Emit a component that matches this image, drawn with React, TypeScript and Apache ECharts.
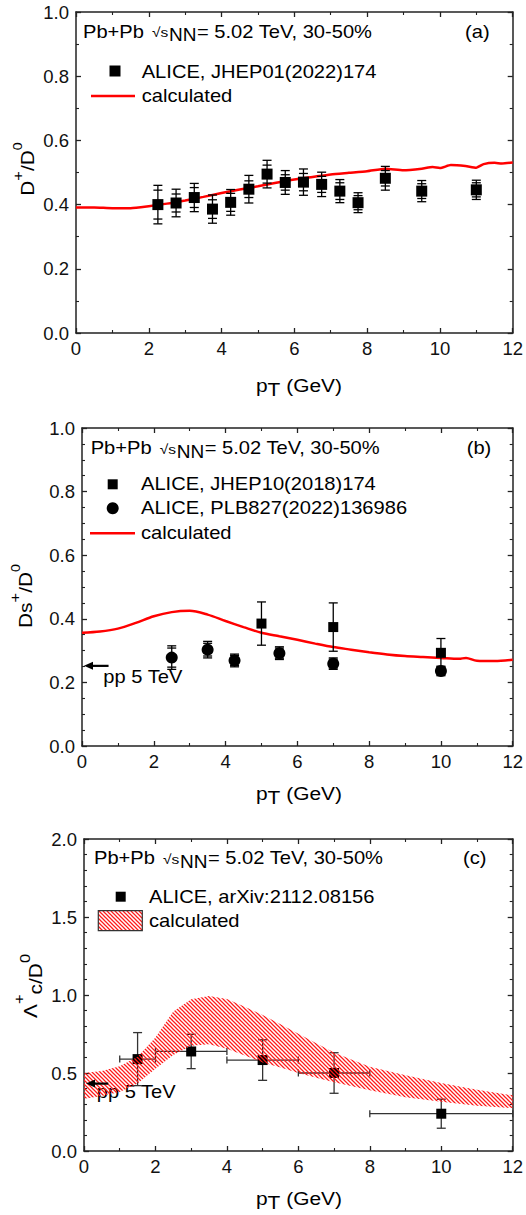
import React, { useEffect, useRef } from "react";
import * as echarts from "echarts";

const FONT = "'Liberation Sans', Arial, Helvetica, sans-serif";
const SX = 1.15; // horizontal stretch of annotation texts

// ---- Panel (a): D+/D0 ----
const dPlusPt = [2.25, 2.75, 3.25, 3.75, 4.25, 4.75, 5.25, 5.75, 6.25, 6.75, 7.25, 7.75, 8.5, 9.5, 11.0];
const dPlusRatio = [0.400, 0.405, 0.422, 0.386, 0.407, 0.448, 0.495, 0.469, 0.470, 0.463, 0.442, 0.406, 0.482, 0.442, 0.446];
const dPlusErrSys = [0.060, 0.043, 0.044, 0.044, 0.040, 0.043, 0.043, 0.037, 0.041, 0.038, 0.036, 0.031, 0.037, 0.033, 0.030];
const dPlusErrStat = [0.045, 0.028, 0.031, 0.029, 0.028, 0.026, 0.028, 0.024, 0.027, 0.025, 0.026, 0.022, 0.024, 0.023, 0.022];
const dPlusCalcPt = [0, 0.5, 1, 1.5, 2, 2.5, 3, 3.5, 4, 4.5, 5, 5.5, 6, 6.5, 7, 7.5, 8, 8.5, 9, 9.5, 9.8, 10, 10.3, 10.7, 11, 11.2, 11.5, 11.7, 12];
const dPlusCalc = [0.391, 0.391, 0.389, 0.389, 0.395, 0.403, 0.413, 0.424, 0.436, 0.447, 0.457, 0.468, 0.478, 0.486, 0.494, 0.499, 0.504, 0.512, 0.507, 0.512, 0.517, 0.514, 0.523, 0.520, 0.515, 0.526, 0.530, 0.528, 0.531];

// ---- Panel (b): Ds+/D0 ----
const ds2018Pt = [5, 7, 10];
const ds2018 = [0.385, 0.374, 0.293];
const ds2018Err = [0.068, 0.076, 0.045];
const ds2022Pt = [2.5, 3.5, 4.25, 5.5, 7, 10];
const ds2022 = [0.278, 0.303, 0.269, 0.292, 0.259, 0.236];
const ds2022ErrSys = [0.037, 0.026, 0.020, 0.020, 0.018, 0.015];
const ds2022ErrStat = [0.030, 0.020, 0.016, 0.016, 0.014, 0.012];
const dsCalcPt = [0, 0.5, 1, 1.5, 2, 2.5, 3, 3.5, 4, 4.5, 5, 5.5, 6, 6.5, 7, 7.5, 8, 8.5, 9, 9.5, 10, 10.5, 10.7, 11, 11.5, 12];
const dsCalc = [0.356, 0.360, 0.369, 0.387, 0.408, 0.421, 0.425, 0.413, 0.393, 0.374, 0.356, 0.345, 0.334, 0.322, 0.311, 0.303, 0.295, 0.288, 0.283, 0.280, 0.277, 0.274, 0.277, 0.268, 0.267, 0.271];
const ppDs = 0.252;
const ppDsArrowEnd = 0.74;

// ---- Panel (c): Lambda_c+/D0 ----
const lcPt = [1.5, 3, 5, 7, 10];
const lcRatio = [0.589, 0.638, 0.583, 0.500, 0.239];
const lcErr = [0.170, 0.110, 0.130, 0.130, 0.093];
const lcPtLo = [1, 2, 4, 6, 8];
const lcPtHi = [2, 4, 6, 8, 12];
const lcBandPt = [0, 0.5, 1, 1.5, 2, 2.5, 3, 3.5, 4, 4.5, 5, 5.5, 6, 6.5, 7, 7.5, 8, 9, 10, 11, 12];
const lcBandHigh = [0.500, 0.513, 0.543, 0.604, 0.728, 0.895, 0.972, 0.994, 0.975, 0.925, 0.872, 0.813, 0.752, 0.690, 0.632, 0.585, 0.540, 0.485, 0.436, 0.393, 0.357];
const lcBandLow = [0.335, 0.353, 0.378, 0.432, 0.528, 0.615, 0.675, 0.685, 0.655, 0.612, 0.568, 0.535, 0.500, 0.470, 0.440, 0.415, 0.390, 0.345, 0.315, 0.290, 0.275];
const ppLc = 0.432;
const ppLcArrowEnd = 0.68;

// ---- axes ----
const xMax = 12;
const xInterval = 2;
const yMax = [1, 1, 2];
const yInterval = [0.2, 0.2, 0.5];
const yMinorSplit = [2, 4, 5];

const AXIS_COLOR = "#222";

let measureCtx: CanvasRenderingContext2D | null = null;
function textWidth(t: string, size: number) {
  if (!measureCtx) measureCtx = document.createElement("canvas").getContext("2d");
  measureCtx!.font = `${size}px ${FONT}`;
  return measureCtx!.measureText(t).width;
}

type Piece = { t: string; s: number; dy?: number };

function textEl(t: string, x: number, y: number, size: number, sx = SX, align = "left") {
  return {
    type: "text",
    x,
    y,
    scaleX: sx,
    silent: true,
    style: {
      text: t,
      font: `${size}px ${FONT}`,
      fill: "#000",
      align,
      textAlign: align,
      verticalAlign: "middle",
      textVerticalAlign: "middle",
    },
  };
}

function runOfText(pieces: Piece[], startX: number, y: number, sx: number) {
  let x = startX;
  const out: any[] = [];
  for (const p of pieces) {
    out.push(textEl(p.t, x, y + (p.dy ?? 0), p.s, sx));
    x += textWidth(p.t, p.s) * sx;
  }
  return out;
}

function rotatedTitle(cx: number, cy: number, pieces: Piece[], sx: number) {
  const total = pieces.reduce((w, p) => w + textWidth(p.t, p.s) * sx, 0);
  return {
    type: "group",
    x: cx,
    y: cy,
    rotation: Math.PI / 2,
    children: runOfText(pieces, -total / 2, 0, sx),
  };
}

function header(x0: number, y: number, tag: string, tagX: number) {
  return [
    textEl("Pb+Pb", x0, y, 17.5),
    textEl("\u221as", x0 + 69, y + 1, 13.5),
    textEl("NN", x0 + 86, y + 3, 19, 1),
    textEl("= 5.02 TeV, 30-50%", x0 + 114, y, 17.5),
    textEl(tag, tagX, y, 17.5),
  ];
}

function ptTitle(y: number) {
  return runOfText(
    [
      { t: "p", s: 19 },
      { t: "T", s: 19, dy: 4 },
      { t: " (GeV)", s: 19 },
    ],
    256,
    y,
    1.1
  );
}

function hatchCanvas() {
  const s = 4;
  const c = document.createElement("canvas");
  c.width = s;
  c.height = s;
  const g = c.getContext("2d")!;
  g.strokeStyle = "#ff1a1a";
  g.lineWidth = 1.25;
  g.beginPath();
  for (let k = -1; k <= 1; k++) {
    g.moveTo(k * s - 1, -1);
    g.lineTo(k * s + s + 1, s + 1);
  }
  g.stroke();
  return c;
}

// vertical error bars with caps at both uncertainty levels
function vErr(capHalf: number, width: number) {
  return (params: any, api: any) => {
    const x = api.value(0);
    const y = api.value(1);
    const e1 = api.value(2);
    const e2 = api.value(3);
    const style = { stroke: "#000", lineWidth: width };
    const hi = api.coord([x, y + e1]);
    const lo = api.coord([x, y - e1]);
    const children: any[] = [
      { type: "line", shape: { x1: hi[0], y1: hi[1], x2: lo[0], y2: lo[1] }, style },
    ];
    for (const e of [e1, e2]) {
      if (!(e > 0)) continue;
      for (const sgn of [1, -1]) {
        const p = api.coord([x, y + sgn * e]);
        children.push({
          type: "line",
          shape: { x1: p[0] - capHalf, y1: p[1], x2: p[0] + capHalf, y2: p[1] },
          style,
        });
      }
    }
    return { type: "group", children };
  };
}

// horizontal + vertical error bars for the Lambda_c points
function xyErr(params: any, api: any) {
  const x = api.value(0);
  const y = api.value(1);
  const ey = api.value(2);
  const xl = api.value(3);
  const xh = api.value(4);
  const style = { stroke: "#333", lineWidth: 1.3 };
  const t = api.coord([x, y + ey]);
  const b = api.coord([x, y - ey]);
  const l = api.coord([xl, y]);
  const r = api.coord([xh, y]);
  const cap = 4.5;
  return {
    type: "group",
    children: [
      { type: "line", shape: { x1: t[0], y1: t[1], x2: b[0], y2: b[1] }, style },
      { type: "line", shape: { x1: t[0] - cap, y1: t[1], x2: t[0] + cap, y2: t[1] }, style },
      { type: "line", shape: { x1: b[0] - cap, y1: b[1], x2: b[0] + cap, y2: b[1] }, style },
      { type: "line", shape: { x1: l[0], y1: l[1], x2: r[0], y2: r[1] }, style },
      { type: "line", shape: { x1: l[0], y1: l[1] - 3.5, x2: l[0], y2: l[1] + 3.5 }, style },
      { type: "line", shape: { x1: r[0], y1: r[1] - 3.5, x2: r[0], y2: r[1] + 3.5 }, style },
    ],
  };
}

// left-pointing arrow marking the pp reference value on the y axis
function ppArrow(params: any, api: any) {
  const y = api.value(1);
  const end = api.value(2);
  const tip = api.coord([0, y]);
  const tail = api.coord([end, y]);
  const tx = tip[0] + 2;
  const head = 9;
  return {
    type: "group",
    children: [
      {
        type: "line",
        shape: { x1: tx + head - 1, y1: tip[1], x2: tail[0], y2: tail[1] },
        style: { stroke: "#000", lineWidth: 2.2 },
      },
      {
        type: "polygon",
        shape: { points: [[tx, tip[1]], [tx + head, tip[1] - 4], [tx + head, tip[1] + 4]] },
        style: { fill: "#000" },
      },
    ],
  };
}

function pairs(xs: number[], ys: number[]) {
  return xs.map((x, i) => [x, ys[i]]);
}

function buildOption(hatch: any) {
  const grids = [
    { left: 76, top: 12, width: 438, height: 321 },
    { left: 82, top: 428, width: 432, height: 318 },
    { left: 84, top: 839, width: 430, height: 312 },
  ];

  const tickCommon = {
    axisLine: { show: true, onZero: false, lineStyle: { color: AXIS_COLOR, width: 1.5 } },
    axisTick: { show: true, inside: true, length: 5, lineStyle: { color: AXIS_COLOR, width: 1.3 } },
    splitLine: { show: false },
  };

  const xAxis: any[] = [];
  const yAxis: any[] = [];
  grids.forEach((_, gi) => {
    for (const pos of ["bottom", "top"]) {
      xAxis.push({
        type: "value",
        gridIndex: gi,
        position: pos,
        min: 0,
        max: xMax,
        interval: xInterval,
        ...tickCommon,
        minorTick: { show: true, splitNumber: 2, length: 3, lineStyle: { color: AXIS_COLOR, width: 1.1 } },
        axisLabel: {
          show: pos === "bottom",
          margin: 6,
          fontSize: 18.5,
          fontFamily: FONT,
          color: "#111",
        },
      });
    }
    for (const pos of ["left", "right"]) {
      yAxis.push({
        type: "value",
        gridIndex: gi,
        position: pos,
        min: 0,
        max: yMax[gi],
        interval: yInterval[gi],
        ...tickCommon,
        minorTick: {
          show: true,
          splitNumber: yMinorSplit[gi],
          length: 3,
          lineStyle: { color: AXIS_COLOR, width: 1.1 },
        },
        axisLabel: {
          show: pos === "left",
          margin: 7,
          fontSize: 18.5,
          fontFamily: FONT,
          color: "#111",
          formatter: (v: number) => v.toFixed(1),
        },
      });
    }
  });

  const ax = (gi: number) => ({ xAxisIndex: gi * 2, yAxisIndex: gi * 2 });
  const black = { color: "#000", opacity: 1 };

  const series: any[] = [
    // (a)
    {
      type: "line",
      ...ax(0),
      data: pairs(dPlusCalcPt, dPlusCalc),
      symbol: "none",
      smooth: 0.2,
      lineStyle: { color: "#ff0000", width: 2.5 },
      z: 2,
    },
    {
      type: "custom",
      ...ax(0),
      data: dPlusPt.map((x, i) => [x, dPlusRatio[i], dPlusErrSys[i], dPlusErrStat[i]]),
      encode: { x: 0, y: 1 },
      renderItem: vErr(4.5, 1.3),
      z: 3,
    },
    {
      type: "scatter",
      ...ax(0),
      data: pairs(dPlusPt, dPlusRatio),
      symbol: "rect",
      symbolSize: 11,
      itemStyle: black,
      z: 4,
    },
    // (b)
    {
      type: "line",
      ...ax(1),
      data: pairs(dsCalcPt, dsCalc),
      symbol: "none",
      smooth: 0.3,
      lineStyle: { color: "#ff0000", width: 2.5 },
      z: 2,
    },
    {
      type: "custom",
      ...ax(1),
      data: [[0, ppDs, ppDsArrowEnd]],
      encode: { x: 0, y: 1 },
      renderItem: ppArrow,
      z: 3,
    },
    {
      type: "custom",
      ...ax(1),
      data: ds2018Pt.map((x, i) => [x, ds2018[i], ds2018Err[i], 0]),
      encode: { x: 0, y: 1 },
      renderItem: vErr(4.5, 1.3),
      z: 3,
    },
    {
      type: "custom",
      ...ax(1),
      data: ds2022Pt.map((x, i) => [x, ds2022[i], ds2022ErrSys[i], ds2022ErrStat[i]]),
      encode: { x: 0, y: 1 },
      renderItem: vErr(4.5, 1.3),
      z: 3,
    },
    {
      type: "scatter",
      ...ax(1),
      data: pairs(ds2018Pt, ds2018),
      symbol: "rect",
      symbolSize: 10,
      itemStyle: black,
      z: 4,
    },
    {
      type: "scatter",
      ...ax(1),
      data: pairs(ds2022Pt, ds2022),
      symbol: "circle",
      symbolSize: 12,
      itemStyle: black,
      z: 4,
    },
    // (c)
    {
      type: "custom",
      ...ax(2),
      data: lcPt.map((x, i) => [x, lcRatio[i], lcErr[i], lcPtLo[i], lcPtHi[i]]),
      encode: { x: 0, y: 1 },
      renderItem: xyErr,
      z: 2,
    },
    {
      type: "scatter",
      ...ax(2),
      data: pairs(lcPt, lcRatio),
      symbol: "rect",
      symbolSize: 10,
      itemStyle: black,
      z: 3,
    },
    {
      type: "custom",
      ...ax(2),
      data: lcBandPt.map((x, i) => [x, lcBandLow[i], lcBandHigh[i]]),
      encode: { x: 0, y: 1 },
      renderItem: (params: any, api: any) => {
        if (params.dataIndex !== 0) return { type: "group", children: [] };
        const pts: number[][] = [];
        lcBandPt.forEach((x, i) => pts.push(api.coord([x, lcBandHigh[i]])));
        for (let i = lcBandPt.length - 1; i >= 0; i--) pts.push(api.coord([lcBandPt[i], lcBandLow[i]]));
        return { type: "polygon", shape: { points: pts }, style: { fill: hatch, stroke: null } };
      },
      z: 5,
    },
    {
      type: "custom",
      ...ax(2),
      data: [[0, ppLc, ppLcArrowEnd]],
      encode: { x: 0, y: 1 },
      renderItem: ppArrow,
      z: 6,
    },
  ];

  const graphic: any[] = [
    // (a) annotations
    ...header(83, 31.7, "(a)", 465),
    { type: "rect", shape: { x: 109.5, y: 65.5, width: 11, height: 11 }, style: { fill: "#000" } },
    textEl("ALICE, JHEP01(2022)174", 141.7, 72, 17.5),
    { type: "line", shape: { x1: 91, y1: 96, x2: 135, y2: 96 }, style: { stroke: "#ff0000", lineWidth: 2.5 } },
    textEl("calculated", 141.7, 96, 17.5),
    rotatedTitle(27, 169, [
      { t: "D", s: 19 },
      { t: "+", s: 15, dy: -9 },
      { t: "/D", s: 19 },
      { t: "0", s: 13, dy: -9 },
    ], 1.1),
    ...ptTitle(385),

    // (b) annotations
    ...header(90.7, 448, "(b)", 466.7),
    { type: "rect", shape: { x: 107.7, y: 479.3, width: 10, height: 10 }, style: { fill: "#000" } },
    textEl("ALICE, JHEP10(2018)174", 141, 484.3, 17.5),
    { type: "circle", shape: { cx: 112.7, cy: 508.3, r: 6 }, style: { fill: "#000" } },
    textEl("ALICE, PLB827(2022)136986", 141, 508.3, 17.5),
    { type: "line", shape: { x1: 90, y1: 533.3, x2: 135, y2: 533.3 }, style: { stroke: "#ff0000", lineWidth: 2.5 } },
    textEl("calculated", 141, 533.3, 17.5),
    textEl("pp 5 TeV", 103.3, 676.7, 17.5),
    rotatedTitle(25, 596, [
      { t: "D", s: 19 },
      { t: "s", s: 19 },
      { t: "+", s: 15, dy: -10 },
      { t: "/D", s: 19 },
      { t: "0", s: 13, dy: -9 },
    ], 1.1),
    ...ptTitle(793),

    // (c) annotations
    ...header(94, 858.3, "(c)", 463),
    { type: "rect", shape: { x: 115.7, y: 891.7, width: 10, height: 10 }, style: { fill: "#000" } },
    textEl("ALICE, arXiv:2112.08156", 149, 896.7, 17.5),
    {
      type: "rect",
      shape: { x: 98.3, y: 910.7, width: 44, height: 20 },
      style: { fill: hatch, stroke: "#333", lineWidth: 1.2 },
    },
    textEl("calculated", 149, 921, 17.5),
    textEl("pp 5 TeV", 96.7, 1091.7, 17.5),
    rotatedTitle(30, 986, [
      { t: "\u039b", s: 19 },
      { t: "+", s: 15, dy: -11 },
      { t: "c", s: 19, dy: 5 },
      { t: "/D", s: 19, dy: 5 },
      { t: "0", s: 15, dy: -5 },
    ], 1.1),
    ...ptTitle(1198),
  ];

  return {
    animation: false,
    backgroundColor: "#fff",
    grid: grids,
    xAxis,
    yAxis,
    series,
    graphic,
  };
}

export default function App() {
  const ref = useRef<HTMLDivElement>(null);
  useEffect(() => {
    if (!ref.current) return;
    const chart = echarts.init(ref.current, null, { renderer: "svg" });
    const hatch = { image: hatchCanvas(), repeat: "repeat" };
    chart.setOption(buildOption(hatch));
    return () => chart.dispose();
  }, []);
  return (
    <div
      ref={ref}
      style={{ position: "fixed", left: 0, top: 0, width: 526, height: 1215, background: "#fff" }}
    />
  );
}
